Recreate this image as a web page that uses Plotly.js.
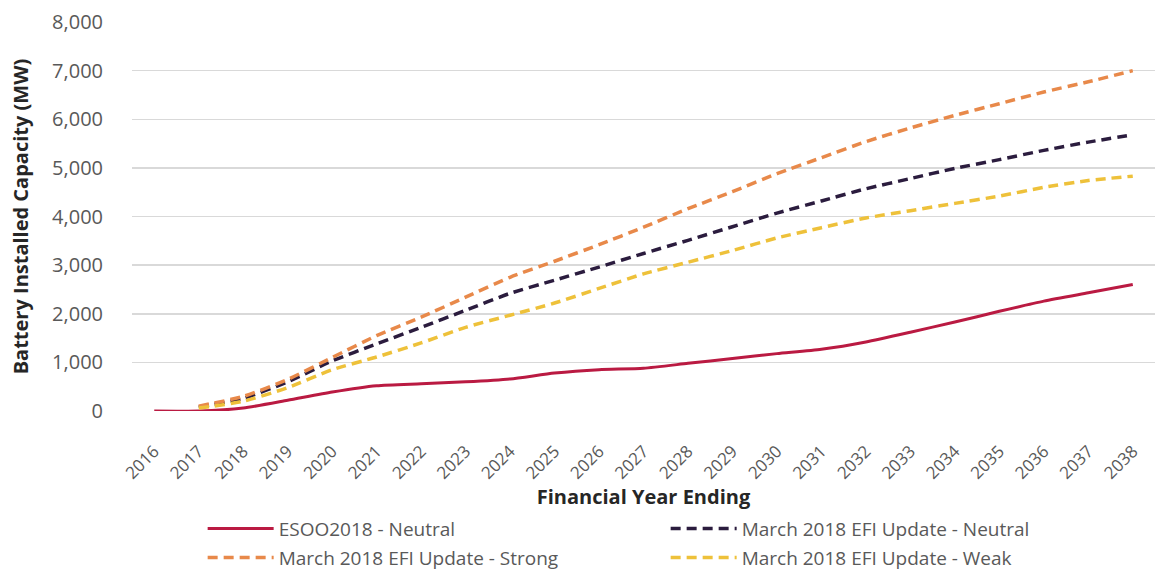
<!DOCTYPE html>
<html>
<head>
<meta charset="utf-8">
<script src="https://cdn.plot.ly/plotly-3.0.1.min.js"></script>
<style>html,body{margin:0;padding:0;background:#fff;}#chart{width:1158px;height:576px;}</style>
</head>
<body>
<div id="chart"></div>
<script>
const years = ['2016','2017','2018','2019','2020','2021','2022','2023','2024','2025','2026','2027','2028','2029','2030','2031','2032','2033','2034','2035','2036','2037','2038'];
const esooNeutral = [0,0,60,220,390,520,560,600,660,780,850,880,980,1080,1180,1270,1420,1620,1830,2050,2260,2430,2600];
const efiNeutral = [null,80,260,600,1030,1380,1720,2070,2420,2690,2960,3240,3510,3790,4070,4320,4570,4780,4990,5170,5360,5530,5680];
const efiStrong = [null,100,300,650,1100,1550,1930,2340,2750,3080,3420,3780,4160,4510,4880,5210,5540,5820,6080,6320,6560,6770,7000];
const efiWeak = [null,60,200,480,850,1110,1400,1720,1970,2220,2520,2820,3060,3300,3560,3770,3970,4120,4270,4420,4600,4740,4830];
const seriesNames = ['ESOO2018 - Neutral','March 2018 EFI Update - Neutral','March 2018 EFI Update - Strong','March 2018 EFI Update - Weak'];

const dashPat = '10px,6px';
const traces = [
  {x: years, y: esooNeutral, name: seriesNames[0], type:'scatter', mode:'lines', legend:'legend',
   line:{color:'#BA1A42', width:3, shape:'spline', smoothing:0.6}},
  {x: years, y: efiNeutral, name: seriesNames[1], type:'scatter', mode:'lines', legend:'legend',
   line:{color:'#2B1C3E', width:3.5, dash:dashPat, shape:'spline', smoothing:0.6}},
  {x: years, y: efiStrong, name: seriesNames[2], type:'scatter', mode:'lines', legend:'legend2',
   line:{color:'#E8894A', width:3.5, dash:dashPat, shape:'spline', smoothing:0.6}},
  {x: years, y: efiWeak, name: seriesNames[3], type:'scatter', mode:'lines', legend:'legend2',
   line:{color:'#EEC13A', width:3.5, dash:dashPat, shape:'spline', smoothing:0.6}}
];

const legendBase = {
  orientation:'h', xref:'container', yref:'container', x:0.175, xanchor:'left', yanchor:'middle',
  entrywidth:382, entrywidthmode:'pixels', traceorder:'normal',
  font:{size:19, color:'#595959'}, itemwidth:66, bgcolor:'rgba(0,0,0,0)'
};

const layout = {
  width:1158, height:576,
  margin:{l:132, r:3, t:22, b:165},
  paper_bgcolor:'#fff', plot_bgcolor:'#fff',
  font:{family:'Open Sans, sans-serif', color:'#595959'},
  showlegend:true,
  xaxis:{
    type:'category', range:[-0.5, 22.5], tickangle:-45, showgrid:false, zeroline:false, showline:false,
    automargin:false, ticks:'', ticklabelstandoff:26,
    tickfont:{size:17, color:'#595959'},
    title:{text:'Financial Year Ending', font:{size:20, color:'#262626', family:'Open Sans, sans-serif', weight:'bold'}, standoff:15}
  },
  yaxis:{
    range:[0,8000], dtick:1000, tickformat:',d', showgrid:true, gridcolor:'#D9D9D9', gridwidth:1.5,
    zeroline:false, showline:false, ticks:'', ticklabelstandoff:28, automargin:false,
    tickfont:{size:20, color:'#595959'},
    title:{text:'Battery Installed Capacity (MW)', font:{size:20, color:'#262626', family:'Open Sans, sans-serif', weight:'bold'}, standoff:18}
  },
  legend: Object.assign({}, legendBase, {y:0.082}),
  legend2: Object.assign({}, legendBase, {y:0.032})
};

Plotly.newPlot('chart', traces, layout, {displayModeBar:false, staticPlot:true});
</script>
</body>
</html>
